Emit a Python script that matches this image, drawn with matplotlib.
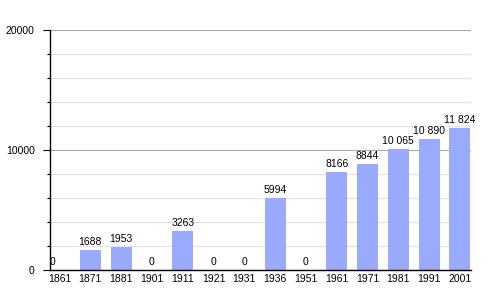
import matplotlib
matplotlib.use('Agg')
import matplotlib.pyplot as plt
from matplotlib.ticker import MultipleLocator

years = ['1861', '1871', '1881', '1901', '1911', '1921', '1931',
         '1936', '1951', '1961', '1971', '1981', '1991', '2001']
population = [0, 1688, 1953, 0, 3263, 0, 0, 5994, 0, 8166, 8844, 10065, 10890, 11824]
labels = ['0', '1688', '1953', '0', '3263', '0', '0', '5994', '0',
          '8166', '8844', '10 065', '10 890', '11 824']

plt.rcParams['font.family'] = ['Liberation Sans', 'DejaVu Sans']

fig = plt.figure(figsize=(5, 3), dpi=100)
ax = fig.add_axes([0.1, 0.1, 0.842, 0.8])

x = range(len(years))
ax.bar(x, population, width=0.68, color='#99aaff', zorder=3)

for i, (v, t) in enumerate(zip(population, labels)):
    if i == 0:
        ax.text(i - 0.32, v + 250, t, ha='left', va='bottom', fontsize=7.5, zorder=4)
    else:
        ax.text(i, v + 250, t, ha='center', va='bottom', fontsize=7.5, zorder=4)

ax.set_xlim(-0.31, 13.36)
ax.set_ylim(0, 20000)
ax.set_xticks(list(x))
ax.set_xticklabels(years, fontsize=7.5)
ax.tick_params(axis='x', length=0, pad=3)

ax.yaxis.set_major_locator(MultipleLocator(10000))
ax.yaxis.set_minor_locator(MultipleLocator(2000))
ax.set_yticks([0, 10000, 20000])
ax.set_yticklabels(['0', '10000', '20000'], fontsize=7.5)
ax.tick_params(axis='y', which='major', length=5, width=0.8, pad=6)
ax.tick_params(axis='y', which='minor', length=2.5, width=0.8)

ax.grid(axis='y', which='major', color='#aaaaaa', linewidth=0.8, zorder=1)
ax.grid(axis='y', which='minor', color='#e2e2e2', linewidth=0.8, zorder=1)

for s in ['top', 'right']:
    ax.spines[s].set_visible(False)
ax.spines['left'].set_linewidth(1)
ax.spines['bottom'].set_linewidth(1)
ax.spines['bottom'].set_zorder(5)

fig.savefig('out.png')
